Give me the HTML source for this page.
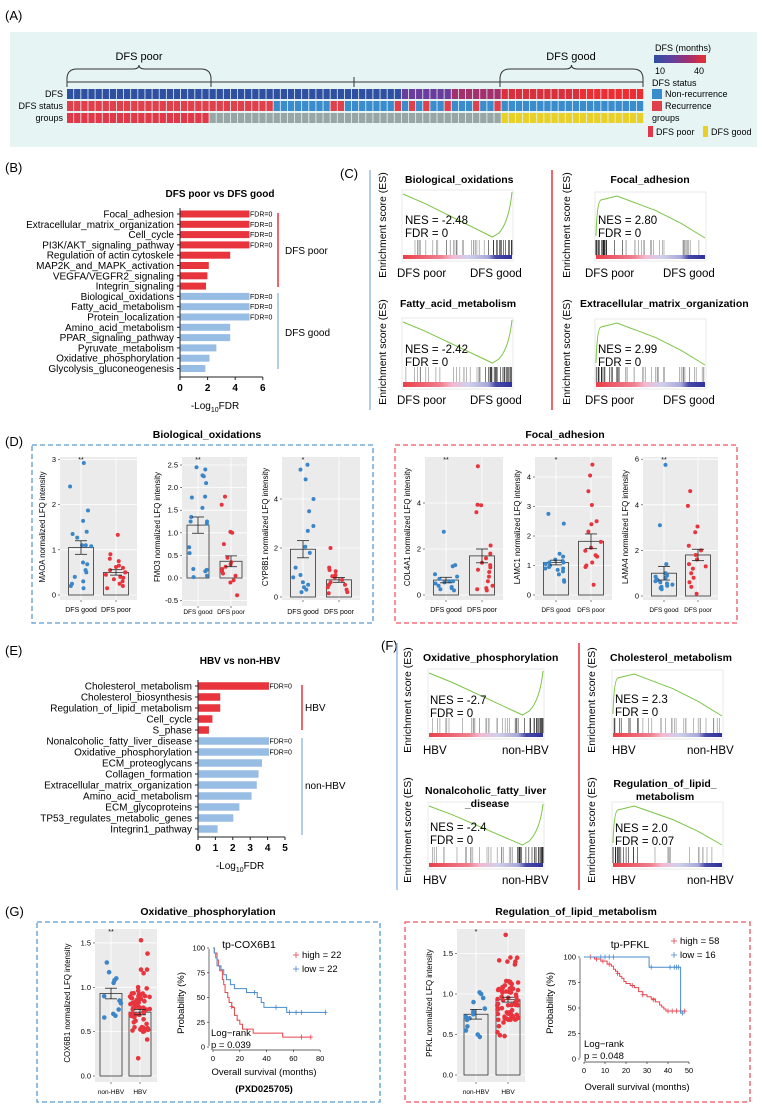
<!DOCTYPE html>
<html><head><meta charset="utf-8">
<style>
html,body{margin:0;padding:0;background:#fff;}
svg{display:block;font-family:"Liberation Sans",Arial,sans-serif;}
</style></head>
<body>
<svg id="s" width="762" height="1119" viewBox="0 0 762 1119" xmlns="http://www.w3.org/2000/svg">
<defs>
<linearGradient id="gr" x1="0" x2="1" y1="0" y2="0">
<stop offset="0" stop-color="#e8404a"/><stop offset="0.35" stop-color="#f08090"/><stop offset="0.45" stop-color="#f4b8d0"/><stop offset="0.6" stop-color="#d0d0ec"/><stop offset="0.78" stop-color="#a8a8d8"/><stop offset="0.85" stop-color="#4848a8"/><stop offset="1" stop-color="#3030a0"/>
</linearGradient>
<linearGradient id="cb" x1="0" x2="1"><stop offset="0" stop-color="#2e4fa0"/><stop offset="0.33" stop-color="#6040a0"/><stop offset="0.66" stop-color="#a03070"/><stop offset="1" stop-color="#e83030"/></linearGradient>
</defs>
</svg>
<script>
var S='';
var seed=7;function R(){seed=(seed*16807)%2147483647;return (seed-1)/2147483646;}
function t(x,y,s,sz,o){o=o||{};S+='<text x="'+x+'" y="'+y+'" font-size="'+sz+'"'+(o.a?' text-anchor="'+o.a+'"':'')+(o.b?' font-weight="bold"':'')+(o.f?' fill="'+o.f+'"':'')+(o.r?' transform="rotate(-90 '+x+' '+y+')"':'')+'>'+s+'</text>';}
function r(x,y,w,h,f,o){S+='<rect x="'+x+'" y="'+y+'" width="'+w+'" height="'+h+'" fill="'+f+'"'+(o||'')+'/>';}
function l(x1,y1,x2,y2,c,w,o){S+='<line x1="'+x1+'" y1="'+y1+'" x2="'+x2+'" y2="'+y2+'" stroke="'+c+'" stroke-width="'+(w||1)+'"'+(o||'')+'/>';}
function p(d,c,w,f){S+='<path d="'+d+'" stroke="'+c+'" stroke-width="'+(w||1)+'" fill="'+(f||'none')+'"/>';}
function c(x,y,rr,f){S+='<circle cx="'+x.toFixed(1)+'" cy="'+y.toFixed(1)+'" r="'+rr+'" fill="'+f+'"/>';}

/* ---------- A ---------- */
t(5,20,'(A)',13);
r(10,32,747,115,'#e6f4f4');
t(139,60,'DFS poor',11,{a:'middle'});t(571,60,'DFS good',11,{a:'middle'});
function brace(x1,x2,y){var m=(x1+x2)/2;p('M'+x1+' '+(y+10)+' Q'+x1+' '+y+' '+(x1+10)+' '+y+' L'+(m-6)+' '+y+' Q'+m+' '+y+' '+m+' '+(y-4)+' Q'+m+' '+y+' '+(m+6)+' '+y+' L'+(x2-10)+' '+y+' Q'+x2+' '+y+' '+x2+' '+(y+10),'#333',1);}
brace(67,211,69);brace(500,643,69);
l(67,82,643,82,'#333',1);[67,211,354,500,643].forEach(function(x){l(x,77,x,87,'#333',1);});
t(63,97,'DFS',9,{a:'end'});t(63,109,'DFS status',9,{a:'end'});t(63,121,'groups',9,{a:'end'});
var cw=(644-67)/81,reds=[37,38,46,48,50,53,57,60];
for(var i=0;i<81;i++){var x=67+i*cw;
 var col=i<47?'#2f4fa0':i<54?'#6a3c9c':i<61?'#a2306c':(i<72?'#d8303c':'#ec2e34');
 r(x.toFixed(2),89,(cw-0.8).toFixed(2),10,col);
 var st=(i<29||reds.indexOf(i)>=0)?'#e0404c':'#3a8ccc';
 r(x.toFixed(2),101,(cw-0.8).toFixed(2),10,st);
 var g=i<20?'#e03848':i<61?'#98a6a6':'#e8d028';
 r(x.toFixed(2),113,(cw-0.8).toFixed(2),10,g);}
t(655,51,'DFS (months)',9);
r(654,55,52,8,'url(#cb)');
t(655,74,'10',9);t(694,74,'40',9);
t(652,86,'DFS status',9);
r(652,89,10,10,'#3a8ccc');t(665,97,'Non-recurrence',9);
r(652,101,10,10,'#e0404c');t(665,109,'Recurrence',9);
t(652,121,'groups',9);
r(648,126,5,11,'#e03848');t(656,135,'DFS poor',9);
r(703,126,5,11,'#e8d028');t(711,135,'DFS good',9);

/* ---------- bar charts B/E ---------- */
function hbar(o){
 t(o.tx,o.ty,o.title,10,{a:'middle',b:1});
 l(o.x0,o.y0-6,o.x0,o.axY,'#222',1);
 o.rows.forEach(function(rw,k){var y=o.y0+k*o.sp;
  r(o.x0+0.5,y-o.bh/2,rw[1]*o.u,o.bh,rw[2]?'#e8343c':'#98bde4');
  l(o.x0-3,y,o.x0,y,'#222',1);
  t(o.x0-6,y+3.5,rw[0],o.fs,{a:'end'});
  if(rw[3])t(o.x0+rw[1]*o.u+1,y+2.5,'FDR=0',7);});
 l(o.x0,o.axY,o.x0+o.max*o.u,o.axY,'#222',1);
 for(var v=0;v<=o.max;v+=o.step){var x=o.x0+v*o.u;l(x,o.axY,x,o.axY+3,'#222',1);t(x,o.axY+14,v,10,{a:'middle',b:1});}
 S+='<text x="'+o.lx+'" y="'+o.ly+'" font-size="10" text-anchor="middle">-Log<tspan font-size="7" dy="3">10</tspan><tspan dy="-3">FDR</tspan></text>';
}
t(5,172,'(B)',13);
hbar({tx:220,ty:197,title:'DFS poor vs DFS good',x0:180,y0:214,sp:10.3,bh:7,u:13.8,fs:10,axY:377,max:6,step:2,lx:215,ly:409,rows:[
['Focal_adhesion',5,1,1],['Extracellular_matrix_organization',5,1,1],['Cell_cycle',5,1,1],['PI3K/AKT_signaling_pathway',5,1,1],['Regulation of actin cytoskele',3.6,1],['MAP2K_and_MAPK_activation',2.05,1],['VEGFA/VEGFR2_signaling',1.95,1],['Integrin_signaling',1.85,1],
['Biological_oxidations',5,0,1],['Fatty_acid_metabolism',5,0,1],['Protein_localization',5,0,1],['Amino_acid_metabolism',3.6,0],['PPAR_signaling_pathway',3.6,0],['Pyruvate_metabolism',2.6,0],['Oxidative_phosphorylation',2.1,0],['Glycolysis_gluconeogenesis',1.8,0]]});
l(278,213,278,287,'#e8343c',1.5);t(285,254,'DFS poor',10);
l(278,293,278,369,'#98bde4',1.5);t(285,336,'DFS good',10);

t(5,655,'(E)',13);
hbar({tx:240,ty:664,title:'HBV vs non-HBV',x0:198,y0:686,sp:11,bh:7.5,u:17.4,fs:10,axY:837,max:5,step:1,lx:240,ly:869,rows:[
['Cholesterol_metabolism',4.05,1,1],['Cholesterol_biosynthesis',1.25,1],['Regulation_of_lipid_metabolism',1.25,1],['Cell_cycle',0.8,1],['S_phase',0.6,1],
['Nonalcoholic_fatty_liver_disease',4.05,0,1],['Oxidative_phosphorylation',4.05,0,1],['ECM_proteoglycans',3.65,0],['Collagen_formation',3.45,0],['Extracellular_matrix_organization',3.35,0],['Amino_acid_metabolism',3.05,0],['ECM_glycoproteins',2.35,0],['TP53_regulates_metabolic_genes',2.0,0],['Integrin1_pathway',1.1,0]]});
l(302,685,302,730,'#e8343c',1.5);t(305,711,'HBV',10);
l(302,738,302,835,'#98bde4',1.5);t(305,789,'non-HBV',10);

/* ---------- GSEA ---------- */
function gsea(o){
 var x0=o.x0,x1=o.x1,w=x1-x0;
 r(x0-1,o.ct-4,w+2,o.gb-o.ct+6,'#fff',' stroke="#ddd" stroke-width="0.6"');
 var d='';
 if(o.neg){var mx=x0+w*0.82;d='M'+x0+' '+o.ct+' L'+(x0+w*0.2)+' '+(o.ct+(o.cb-o.ct)*0.22)+' L'+mx+' '+o.cb+' L'+(mx+w*0.06)+' '+(o.cb-4)+' Q'+(x1-3)+' '+(o.cb-15)+' '+x1+' '+(o.ct-2);}
 else{var pk=x0+w*0.12;d='M'+x0+' '+(o.cb-2)+' Q'+(x0+1)+' '+(o.ct+5)+' '+(x0+5)+' '+(o.ct+4)+' L'+pk+' '+(o.ct+2)+' L'+(pk+8)+' '+o.ct+' L'+(x0+w*0.55)+' '+(o.ct+(o.cb-o.ct)*0.35)+' L'+(x0+w*0.78)+' '+(o.ct+(o.cb-o.ct)*0.65)+' L'+x1+' '+o.cb;}
 p(d,'#7cc444',1);
 var n=o.n||45;
 for(var i=0;i<n;i++){var u=R();var pos=o.neg?1-Math.pow(u,1.8):Math.pow(u,1.8);if(o.neg&&pos<0.02)pos+=0.02;
  var x=x0+pos*w;var dk=o.neg?(pos>0.75?'#222':'#888'):(pos<0.25?'#222':'#888');l(x.toFixed(1),o.bt,x.toFixed(1),o.gt,dk,0.6);}
 r(x0,o.gt,w,o.gb-o.gt,'url(#gr)');
 t(o.nx,o.ny,'NES = '+o.nes,11.5);t(o.nx,o.ny+13,'FDR = '+o.fdr,11.5);
 t(o.lx1,o.ly,o.l1,11.5);t(o.lx2,o.ly,o.l2,11.5);
 t(o.yx,o.yy,'Enrichment score (ES)',10.5,{a:'middle',r:1});
 (o.tt||[]).forEach(function(q){t(q[0],q[1],q[2],10.5,{b:1,a:q[3]});});
}
t(340,178,'(C)',13);
l(370,170,370,410,'#98bde4',1.5);l(552,170,552,410,'#e8343c',1.5);
gsea({tt:[[405,183,'Biological_oxidations']],x0:403,x1:512,ct:194,cb:237,bt:240,gt:255,gb:259,neg:1,nx:405,ny:224,nes:'-2.48',fdr:'0',l1:'DFS poor',l2:'DFS good',lx1:397,lx2:470,ly:277,yx:386,yy:225});
gsea({tt:[[400,307,'Fatty_acid_metabolism']],x0:403,x1:512,ct:322,cb:363,bt:367,gt:382,gb:387,neg:1,nx:405,ny:353,nes:'-2.42',fdr:'0',l1:'DFS poor',l2:'DFS good',lx1:397,lx2:470,ly:404,yx:386,yy:352});
gsea({tt:[[650,183,'Focal_adhesion','middle']],x0:596,x1:705,ct:196,cb:238,bt:240,gt:255,gb:259,neg:0,nx:598,ny:224,nes:'2.80',fdr:'0',l1:'DFS poor',l2:'DFS good',lx1:585,lx2:663,ly:277,yx:570,yy:225});
gsea({tt:[[580,307,'Extracellular_matrix_organization']],x0:596,x1:705,ct:323,cb:365,bt:367,gt:382,gb:387,neg:0,nx:598,ny:353,nes:'2.99',fdr:'0',l1:'DFS poor',l2:'DFS good',lx1:585,lx2:663,ly:404,yx:570,yy:352});

t(381,650,'(F)',13);
l(397,643,397,890,'#98bde4',1.5);l(579,643,579,890,'#e8343c',1.5);
gsea({tt:[[423,661,'Oxidative_phosphorylation']],x0:429,x1:543,ct:673,cb:715,bt:718,gt:733,gb:737,neg:1,nx:430,ny:704,nes:'-2.7',fdr:'0',l1:'HBV',l2:'non-HBV',lx1:423,lx2:502,ly:754,yx:411,yy:700});
gsea({tt:[[425,794,'Nonalcoholic_fatty_liver'],[487,807,'_disease','middle']],x0:429,x1:543,ct:806,cb:845,bt:847,gt:863,gb:867,neg:1,nx:430,ny:831,nes:'-2.4',fdr:'0',l1:'HBV',l2:'non-HBV',lx1:423,lx2:502,ly:884,yx:411,yy:830});
gsea({tt:[[610,661,'Cholesterol_metabolism']],x0:613,x1:722,ct:674,cb:716,bt:718,gt:733,gb:737,neg:0,n:30,nx:615,ny:703,nes:'2.3',fdr:'0',l1:'HBV',l2:'non-HBV',lx1:612,lx2:687,ly:754,yx:595,yy:700});
gsea({tt:[[665,787,'Regulation_of_lipid_','middle'],[665,800,'metabolism','middle']],x0:613,x1:722,ct:806,cb:845,bt:847,gt:863,gb:867,neg:0,n:28,nx:615,ny:832,nes:'2.0',fdr:'0.07',l1:'HBV',l2:'non-HBV',lx1:612,lx2:687,ly:884,yx:595,yy:830});

/* ---------- dot-bar plots ---------- */
function dotbar(o){
 r(o.gx0,o.gy0,o.gx1-o.gx0,o.gy1-o.gy0,'#ebebeb');
 var Y=function(v){return o.z-v*o.u;};
 o.ticks.forEach(function(v){var y=Y(v);if(y<o.gy0||y>o.gy1)return;l(o.gx0,y,o.gx1,y,'#fff',0.8);l(o.gx0-2,y,o.gx0,y,'#333',0.6);t(o.gx0-4,y+2.5,o.tl?o.tl(v):v,o.tfs||7.5,{a:'end'});});
 o.cats.forEach(function(cg){var cx=cg.x;l(cx,o.gy0,cx,o.gy1,'#fff',0.8);
  r(cx-cg.w/2,Y(cg.m),cg.w,o.z-Y(cg.m),'none',' stroke="#333" stroke-width="0.8"');
  cg.v.forEach(function(v){c(cx+(R()-0.5)*cg.w*0.9,Y(v),o.dr||2,cg.c);});
  var e1=Y(cg.m+cg.s),e2=Y(cg.m-cg.s);l(cx,e1,cx,e2,'#222',0.8);l(cx-6,e1,cx+6,e1,'#222',0.8);l(cx-6,e2,cx+6,e2,'#222',0.8);
  l(cx,o.gy1,cx,o.gy1+2,'#333',0.6);t(cx,o.lY,cg.n,o.lfs||7,{a:'middle'});});
 if(o.star)t(o.cats[0].x,o.gy0+5,o.star,7,{a:'middle'});
 t(o.ylx,o.yly,o.yl,7.8,{a:'middle',r:1});
}
function gen(n,mean,spread,min){var a=[];for(var i=0;i<n;i++){var v=mean+(R()-0.5)*2*spread*(R()<0.2?2.2:1);a.push(Math.max(min||0.05,v));}return a;}
var BL='#3a86c8',RD='#e8343c';
t(5,446,'(D)',13);
t(207,438,'Biological_oxidations',10.5,{a:'middle',b:1});
t(565,438,'Focal_adhesion',10.5,{a:'middle',b:1});
r(32,445,341,178,'none',' stroke="#5a9ad2" stroke-width="1.3" stroke-dasharray="5,3"');
r(395,445,342,178,'none',' stroke="#ee5560" stroke-width="1.3" stroke-dasharray="5,3"');
dotbar({gx0:60,gx1:137,gy0:457,gy1:600,z:595,u:45.2,ticks:[0,1,2,3],cats:[{x:81,w:25,m:1.05,s:0.15,c:BL,n:'DFS good',v:[2.92,2.4,1.87,1.64,1.4,1.35,1.27,1.1,1.08,1.1,0.72,0.68,0.55,0.5,0.3,0.25,0.2,0.15,0.4]},{x:116,w:25,m:0.5,s:0.06,c:RD,n:'DFS poor',v:[1.33,0.9,0.8,0.75,0.65,0.6,0.55,0.5,0.45,0.4,0.35,0.3,0.25,0.2,0.15,0.5,0.62,0.38]}],lY:612,star:'**',ylx:45,yly:527,yl:'MAOA normalized LFQ intensity'});
dotbar({gx0:182,gx1:247,gy0:457,gy1:606,z:578,u:45.2,ticks:[-0.5,0,0.5,1,1.5,2,2.5],tl:function(v){return v.toFixed(1);},cats:[{x:198,w:22,m:1.17,s:0.18,c:BL,n:'DFS good',v:[2.45,2.4,2.25,2.27,2.1,1.8,1.78,1.55,1.35,1.25,1.2,1.25,0.68,0.55,0.2,0.18,0.15,0.05,0.02]},{x:231,w:22,m:0.37,s:0.12,c:RD,n:'DFS poor',v:[1.8,1.62,1.02,1.0,0.75,0.45,0.3,0.25,0.2,0.15,0.1,-0.05,-0.1,-0.38,0.05,0.35]}],lY:614,lfs:6.5,star:'**',ylx:160,yly:527,yl:'FMO3 normalized LFQ intensity'});
dotbar({gx0:282,gx1:360,gy0:457,gy1:600,z:597,u:24.5,ticks:[0,2,4],cats:[{x:303,w:25,m:1.95,s:0.35,c:BL,n:'DFS good',v:[5.4,5.2,4.8,4.0,3.5,2.9,2.7,2.05,1.8,1.2,0.8,0.5,0.3,0.2,0.4,0.9,0.6]},{x:339,w:25,m:0.7,s:0.1,c:RD,n:'DFS poor',v:[2.0,1.2,1.1,1.05,0.9,0.85,0.7,0.6,0.5,0.4,0.3,0.2,0.15,0.5,0.8]}],lY:614,star:'*',ylx:268,yly:527,yl:'CYP8B1 normalized LFQ intensity'});
dotbar({gx0:425,gx1:503,gy0:457,gy1:600,z:595,u:23,ticks:[0,2,4],cats:[{x:446,w:25,m:0.65,s:0.12,c:BL,n:'DFS good',v:[2.75,1.3,1.25,0.9,0.8,0.7,0.6,0.55,0.5,0.4,0.35,0.3,0.25,0.2,0.6]},{x:482,w:25,m:1.7,s:0.3,c:RD,n:'DFS poor',v:[5.6,3.9,3.92,3.6,2.15,1.8,1.6,1.4,1.2,1.0,0.8,0.6,0.4,0.3,0.25,0.2,1.1,1.3]}],lY:612,star:'**',ylx:410,yly:527,yl:'COL4A1 normalized LFQ intensity'});
dotbar({gx0:535,gx1:612,gy0:457,gy1:600,z:595,u:29.5,ticks:[0,1,2,3,4],cats:[{x:556,w:25,m:1.1,s:0.08,c:BL,n:'DFS good',v:[2.75,2.42,1.4,1.3,1.2,1.15,1.1,1.05,1.0,0.95,0.9,0.85,0.8,0.7,0.5,0.45,0.9,1.1]},{x:591,w:25,m:1.82,s:0.25,c:RD,n:'DFS poor',v:[4.42,4.05,3.52,3.05,2.5,2.4,2.15,1.6,1.5,1.35,1.3,1.0,0.95,0.35,1.1,1.8]}],lY:612,lfs:6.5,star:'*',ylx:520,yly:527,yl:'LAMC1 normalized LFQ intensity'});
dotbar({gx0:643,gx1:718,gy0:457,gy1:600,z:596,u:22.8,ticks:[0,2,4,6],cats:[{x:664,w:25,m:1.0,s:0.3,c:BL,n:'DFS good',v:[5.75,3.1,1.4,1.0,0.9,0.8,0.75,0.7,0.65,0.6,0.55,0.5,0.45,0.4,0.35,0.3,0.85]},{x:698,w:25,m:1.8,s:0.25,c:RD,n:'DFS poor',v:[4.6,3.95,3.05,2.8,2.2,2.0,1.8,1.6,1.4,1.3,1.2,0.8,0.6,0.4,0.1,1.0]}],lY:612,lfs:6.5,star:'**',ylx:628,yly:527,yl:'LAMA4 normalized LFQ intensity'});

/* ---------- G ---------- */
t(5,916,'(G)',13);
t(208,915,'Oxidative_phosphorylation',10.5,{a:'middle',b:1});
t(576,915,'Regulation_of_lipid_metabolism',10.5,{a:'middle',b:1});
r(37,922,343,180,'none',' stroke="#5a9ad2" stroke-width="1.3" stroke-dasharray="5,3"');
r(405,922,345,180,'none',' stroke="#ee5560" stroke-width="1.3" stroke-dasharray="5,3"');
dotbar({gx0:95,gx1:157,gy0:929,gy1:1082,z:1076,u:88.7,ticks:[0,0.5,1,1.5],tl:function(v){return v.toFixed(1);},cats:[{x:111,w:22,m:0.93,s:0.06,c:BL,n:'non-HBV',v:[1.28,1.17,1.1,1.08,1.05,0.9,0.85,0.82,0.7,0.68,0.66,0.75]},{x:140,w:22,m:0.72,s:0.03,c:RD,n:'HBV',v:gen(60,0.72,0.22,0.2).concat([1.53,1.38,1.2,0.2])}],lY:1094,lfs:6.5,star:'**',dr:2.3,ylx:70,yly:1003,yl:'COX6B1 normalized LFQ intensity'});
dotbar({gx0:457,gx1:525,gy0:929,gy1:1082,z:1075,u:81,ticks:[0,0.5,1,1.5],tl:function(v){return v.toFixed(1);},cats:[{x:476,w:24,m:0.75,s:0.06,c:BL,n:'non-HBV',v:[1.02,1.0,0.95,0.9,0.82,0.78,0.75,0.72,0.68,0.6,0.55,0.5,0.47,0.7]},{x:508,w:24,m:0.93,s:0.03,c:RD,n:'HBV',v:gen(70,0.93,0.25,0.48).concat([1.73,1.45,1.4])}],lY:1094,lfs:6.5,star:'*',dr:2.3,ylx:432,yly:1003,yl:'PFKL normalized LFQ intensity'});

function km(o){
 var X=function(v){return o.x0+v*o.ux;},Y=function(v){return o.y0-v*o.uy;};
 l(o.ax,Y(0)-1,o.ax,Y(100)+1,'#333',0.7);l(X(0),o.bx,X(o.xmax),o.bx,'#333',0.7);
 [0,25,50,75,100].forEach(function(v){l(o.ax-2,Y(v),o.ax,Y(v),'#333',0.7);t(o.ax-4,Y(v)+2.5,v,7.5,{a:'end'});});
 for(var v=0;v<=o.xmax;v+=o.xs){l(X(v),o.bx,X(v),o.bx+2,'#333',0.7);t(X(v),o.bx+11,v,7.5,{a:'middle'});}
 o.cur.forEach(function(cv){var d='M'+X(0)+' '+Y(100),prev=100;cv.p.forEach(function(q){d+=' L'+X(q[0])+' '+Y(prev)+' L'+X(q[0])+' '+Y(q[1]);prev=q[1];});d+=' L'+X(cv.end)+' '+Y(prev);p(d,cv.c,1);
  (cv.cens||[]).forEach(function(q){var x=X(q[0]),y=Y(q[1]);l(x-2,y,x+2,y,cv.c,0.8);l(x,y-2.5,x,y+2.5,cv.c,0.8);});});
 t(o.tx,o.ty,o.title,10.5,{a:'middle'});
 o.leg.forEach(function(g,k){var y=o.ly+k*14;l(o.lx-3,y-3,o.lx+3,y-3,g[1],0.8);l(o.lx,y-6,o.lx,y,g[1],0.8);t(o.lx+6,y,g[0],9.5);});
 t(o.rx,o.ry,'Log\u2212rank',9.5);t(o.rx,o.ry+12,'p = '+o.pv,9.5);
 t(o.xlx,o.xly,'Overall survival (months)',9.5,{a:'middle'});
 t(o.ylx,o.yly,'Probability (%)',9.5,{a:'middle',r:1});
}
km({x0:213,y0:1047,ux:1.34,uy:0.99,ax:209,bx:1050,xmax:80,xs:20,title:'tp-COX6B1',tx:249,ty:948,
 cur:[{c:'#e8444c',end:73,p:[[1,95],[3,88],[4,82],[5,77],[7,68],[8,63],[9,55],[11,50],[12,45],[14,40],[16,32],[18,27],[20,23],[22,18],[30,14],[52,10]],cens:[[14,41],[66,10],[73,10]]},
      {c:'#4a8ccc',end:84,p:[[1,95],[2,90],[3,82],[6,78],[8,73],[10,68],[13,63],[16,59],[25,55],[33,50],[36,45],[38,40],[55,35]],cens:[[31,55],[47,40],[57,35],[62,35],[66,35],[84,35]]}],
 leg:[['high = 22','#e8444c'],['low = 22','#4a8ccc']],lx:296,ly:958,rx:211,ry:1036,pv:'0.039',xlx:264,xly:1075,ylx:184,yly:1003});
t(264,1092,'(PXD025705)',9.5,{a:'middle',b:1});
km({x0:584,y0:1059,ux:2.1,uy:1.02,ax:580,bx:1062,xmax:50,xs:10,title:'tp-PFKL',tx:630,ty:948,
 cur:[{c:'#e8444c',end:48,p:[[5,98],[8,96],[11,93],[13,91],[14,88],[15,86],[16,84],[17,81],[18,79],[19,76],[20,74],[22,72],[24,70],[26,66],[28,63],[30,61],[32,59],[34,56],[36,53],[37,51],[38,49],[39,47]],cens:[[3,100],[6,98],[9,96],[12,93],[16,84],[23,72],[28,63],[33,58],[40,47],[42,47],[44,47],[46,47],[48,47]]},
      {c:'#4a8ccc',end:47,p:[[31,90],[46,45]],cens:[[8,100],[10,100],[12,100],[14,100],[32,90],[41,90],[43,90],[44,90],[45,90],[47,45]]}],
 leg:[['high = 58','#e8444c'],['low = 16','#4a8ccc']],lx:674,ly:944,rx:584,ry:1047,pv:'0.048',xlx:637,xly:1090,ylx:553,yly:1003});

document.getElementById('s').insertAdjacentHTML('beforeend',S);
</script>
</body></html>
